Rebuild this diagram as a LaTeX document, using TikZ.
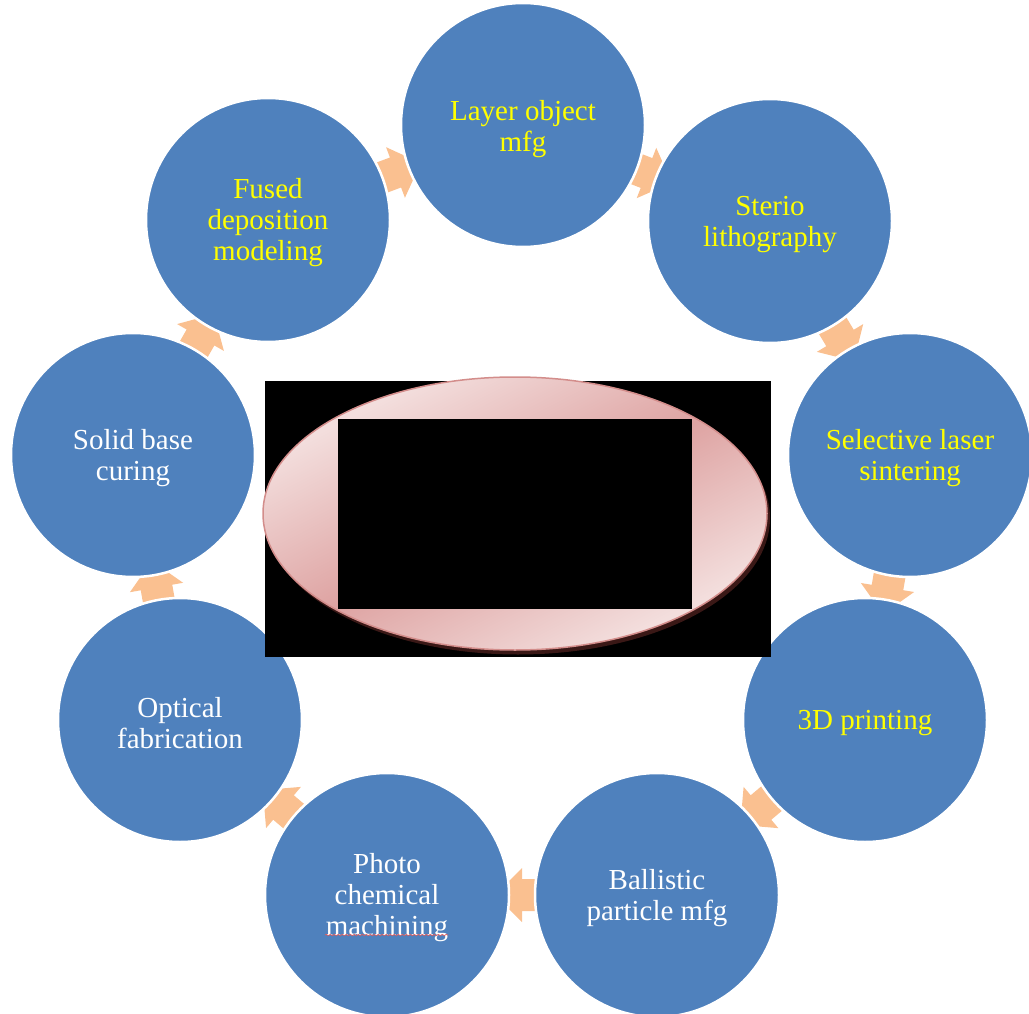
\documentclass[tikz,border=0pt]{standalone}
\usepackage{fontspec}
\setmainfont{Liberation Serif}
\usetikzlibrary{calc,backgrounds,shapes.geometric,decorations.pathmorphing}
\definecolor{cblue}{HTML}{4F81BD}
\definecolor{carrow}{HTML}{FAC090}
\definecolor{ylw}{HTML}{FFFF00}
\definecolor{elight}{HTML}{F3DEDD}
\definecolor{edark}{HTML}{DEA3A2}
\definecolor{eborder}{HTML}{D38D8B}
\definecolor{eshadow}{HTML}{3A1816}
\definecolor{squig}{HTML}{E05A5A}
\pgfdeclarehorizontalshading{mirrorpink}{100bp}{color(0bp)=(elight); color(27bp)=(elight); color(50bp)=(edark); color(73bp)=(elight); color(100bp)=(elight)}
\newcommand\cyclearrow[2]{%
  \pgfmathanglebetweenpoints{\pgfpointanchor{#1}{center}}{\pgfpointanchor{#2}{center}}%
  \let\arang\pgfmathresult
  \begin{scope}[shift={($(#1.center)!0.5!(#2.center)$)}, rotate=\arang]
    \fill[arrowfill] (-26,-16) -- (0,-16) -- (0,-27) -- (27,0) -- (0,27) -- (0,16) -- (-26,16) -- cycle;
  \end{scope}}
\tikzset{
  cyc/.style={circle, fill=cblue, draw=white, line width=2.5pt, minimum size=244pt, inner sep=0pt},
  lbl/.style={align=center, inner sep=0pt, font=\fontsize{29}{31}\selectfont},
  ytext/.style={lbl, text=ylw},
  wtext/.style={lbl, text=white},
  arrowfill/.style={fill=carrow},
  blackbox/.style={fill=black, inner sep=0pt, draw=none}
}
\begin{document}
\begin{tikzpicture}[x=1pt, y=-1pt]
\useasboundingbox (0,0) rectangle (1029,1014);
\node[cyc] (layer) at (523,125) {};
\node[cyc] (sterio) at (770,221) {};
\node[cyc] (sls) at (910,455) {};
\node[cyc] (print) at (865,720) {};
\node[cyc] (ballistic) at (657,895) {};
\node[cyc] (photo) at (387,895) {};
\node[cyc] (optical) at (180,720) {};
\node[cyc] (solid) at (133,455) {};
\node[cyc] (fused) at (268,220) {};
\node[ytext] (layert) at ($(layer.center)+(0,4)$) {Layer object\\mfg};
\node[ytext] (steriot) at ($(sterio.center)+(0,3.5)$) {Sterio\\lithography};
\node[ytext] (slst) at ($(sls.center)+(0,3.5)$) {Selective laser\\sintering};
\node[ytext] (printt) at ($(print.center)+(0,3.5)$) {3D printing};
\node[wtext] (ballistict) at ($(ballistic.center)+(0,3.5)$) {Ballistic\\particle mfg};
\node[wtext] (photot) at ($(photo.center)+(0,3)$) {Photo\\chemical\\machining};
\node[wtext] (opticalt) at ($(optical.center)+(0,3)$) {Optical\\fabrication};
\node[wtext] (solidt) at ($(solid.center)+(0,3)$) {Solid base\\curing};
\node[ytext] (fusedt) at ($(fused.center)+(0,3)$) {Fused\\deposition\\modeling};
\begin{pgfonlayer}{background}
\cyclearrow{layer}{sterio}
\cyclearrow{sterio}{sls}
\cyclearrow{sls}{print}
\cyclearrow{print}{ballistic}
\cyclearrow{ballistic}{photo}
\cyclearrow{photo}{optical}
\cyclearrow{optical}{solid}
\cyclearrow{solid}{fused}
\cyclearrow{fused}{layer}
\end{pgfonlayer}
\draw[squig, line width=0.7pt, decorate, decoration={snake, amplitude=0.6pt, segment length=4pt}]
  ($(photo.center)+(-62,40)$) -- ($(photo.center)+(61,40)$);
\node[blackbox, minimum width=506pt, minimum height=276pt] (outerbox) at (518,519) {};
\node[ellipse, fill=eshadow, inner sep=0pt, minimum width=504pt, minimum height=273pt] (eshade) at (518,518) {};
\node[ellipse, shade, shading=mirrorpink, shading angle=117, draw=eborder, line width=1.5pt, inner sep=0pt, minimum width=504pt, minimum height=273pt] (oval) at (515,513.5) {};
\node[blackbox, minimum width=354pt, minimum height=190pt] (innerbox) at (515,514) {};
\end{tikzpicture}
\end{document}
